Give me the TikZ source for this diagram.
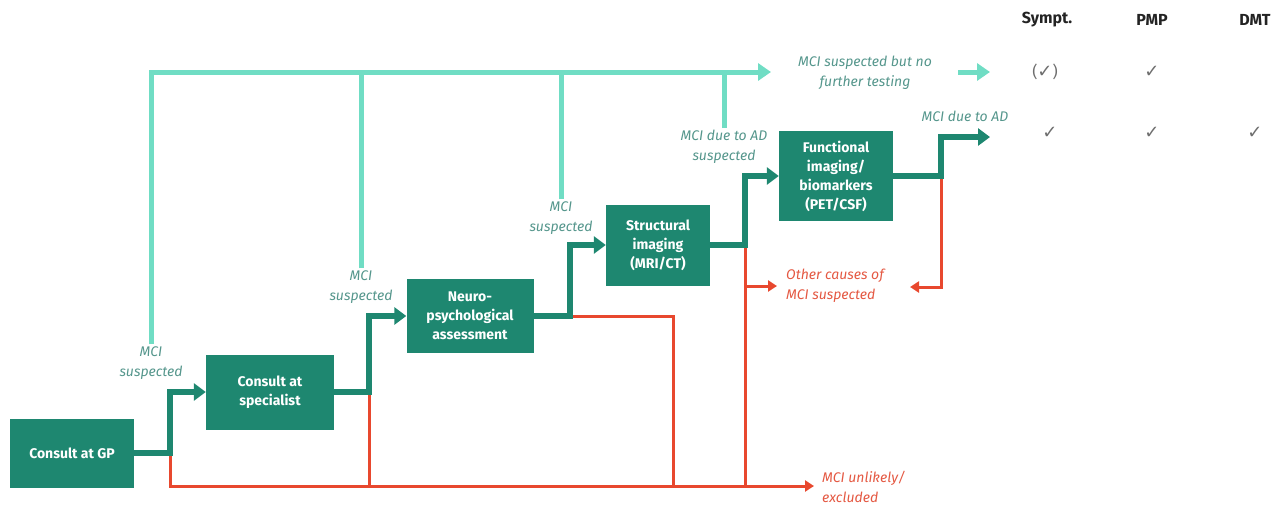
\documentclass[tikz,border=0pt]{standalone}
\usepackage{fontspec}
\setmainfont{Fira Sans}
\newfontfamily\symfont{DejaVu Sans}
\usetikzlibrary{arrows.meta}
\definecolor{dg}{RGB}{30,135,112}
\definecolor{tl}{RGB}{112,221,196}
\definecolor{rd}{RGB}{232,72,46}
\definecolor{lblc}{RGB}{85,150,140}
\definecolor{rlbl}{RGB}{228,88,66}
\definecolor{chk}{RGB}{110,110,110}
\definecolor{hdr}{RGB}{35,35,35}
\begin{document}
\begin{tikzpicture}[x=1pt,y=-1pt,
  box/.style={fill=dg, text=white, font=\bfseries\fontsize{14}{19}\selectfont, align=center, inner sep=0pt},
  lbl/.style={text=lblc, font=\itshape\fontsize{14}{20}\selectfont, align=center, inner sep=2pt},
  rlab/.style={text=rlbl, font=\itshape\fontsize{14}{20}\selectfont, align=left, inner sep=0pt, anchor=west},
  hd/.style={text=hdr, font=\bfseries\fontsize{16}{18}\selectfont},
  ck/.style={text=chk, font=\symfont\fontsize{18}{20}\selectfont},
  dgl/.style={draw=dg, line width=6pt},
  tll/.style={draw=tl, line width=5pt},
  rdl/.style={draw=rd, line width=3pt},
  dgtip/.tip={Triangle[length=12pt,width=17pt]},
  tltip/.tip={Triangle[length=13pt,width=17pt]},
  rdtip/.tip={Triangle[length=9pt,width=11pt]}
]
\useasboundingbox (0,0) rectangle (1285,504);

% boxes
\node[box, minimum width=124pt, minimum height=69pt] (gp) at (72,453) {Consult at GP};
\node[box, minimum width=128pt, minimum height=75pt] (spec) at (270,392) {Consult at\\specialist};
\node[box, minimum width=127pt, minimum height=74pt] (neuro) at (470,316) {Neuro-\\psychological\\assessment};
\node[box, minimum width=104pt, minimum height=81pt] (struct) at (658,245) {Structural\\imaging\\(MRI/CT)};
\node[box, minimum width=114pt, minimum height=90pt] (func) at (836,176) {Functional\\imaging/\\biomarkers\\(PET/CSF)};

% labels
\node[lbl] (l1) at (151,363) {MCI\\suspected};
\node[lbl] (l2) at (361,287) {MCI\\suspected};
\node[lbl] (l3) at (561,218) {MCI\\suspected};
\node[lbl] (l4) at (724,147) {MCI due to AD\\suspected};
\node[lbl] (nf) at (865,73) {MCI suspected but no\\further testing};
\node[lbl] (ad) at (965,116) {MCI due to AD};
\node[rlab] (oth) at (786,286) {Other causes of\\MCI suspected};
\node[rlab] (unl) at (822,487) {MCI unlikely/\\excluded};

% table
\node[hd] (h1) at (1047,20) {Sympt.};
\node[hd] (h2) at (1152,20) {PMP};
\node[hd] (h3) at (1255,20) {DMT};
\node[ck] (c11) at (1045,72) {{\rmfamily\fontsize{16}{18}\selectfont(}✓{\rmfamily\fontsize{16}{18}\selectfont)}};
\node[ck] (c12) at (1152,72) {✓};
\node[ck] (c21) at (1050,133) {✓};
\node[ck] (c22) at (1152,133) {✓};
\node[ck] (c23) at (1255,133) {✓};

% coordinates
\coordinate (tc) at (151,72);
\coordinate (a1) at (771,72);
\coordinate (s1) at (958,72);
\coordinate (s2) at (990,72);
\coordinate (j1) at (170,453);
\coordinate (j2) at (369,392);
\coordinate (j3) at (570,316);
\coordinate (j4) at (745,245);
\coordinate (j5) at (941,176);
\coordinate (e5) at (990,137);
\coordinate (b1) at (170,486);
\coordinate (b2) at (369,486);
\coordinate (b3) at (673,486);
\coordinate (b4) at (745,486);
\coordinate (r3) at (673,316);
\coordinate (o4) at (745,286);
\coordinate (oa) at (777,286);
\coordinate (oe) at (910,287);
\coordinate (ua) at (814,486);

% red
\draw[rdl,-rdtip] (j1) -- (b1) -- (ua);
\draw[rdl] (j2) -- (b2);
\draw[rdl] (j3) -- (r3) -- (b3);
\draw[rdl] (j4) -- (b4);
\draw[rdl,-rdtip] (o4) -- (oa);
\draw[rdl,-rdtip] (j5) |- (oe);

% teal
\draw[tll,-tltip] (l1.north) |- (a1);
\draw[tll] (l2.north) -- (l2.north |- tc);
\draw[tll] (l3.north) -- (l3.north |- tc);
\draw[tll] (l4.north) -- (l4.north |- tc);
\draw[tll,-tltip] (s1) -- (s2);

% dark green
\draw[dgl,-dgtip] (gp.east) -- (j1) |- (spec.west);
\draw[dgl,-dgtip] (spec.east) -- (j2) |- (neuro.west);
\draw[dgl,-dgtip] (neuro.east) -- (j3) |- (struct.west);
\draw[dgl,-dgtip] (struct.east) -- (j4) |- (func.west);
\draw[dgl,-dgtip] (func.east) -- (j5) |- (e5);
\end{tikzpicture}
\end{document}
